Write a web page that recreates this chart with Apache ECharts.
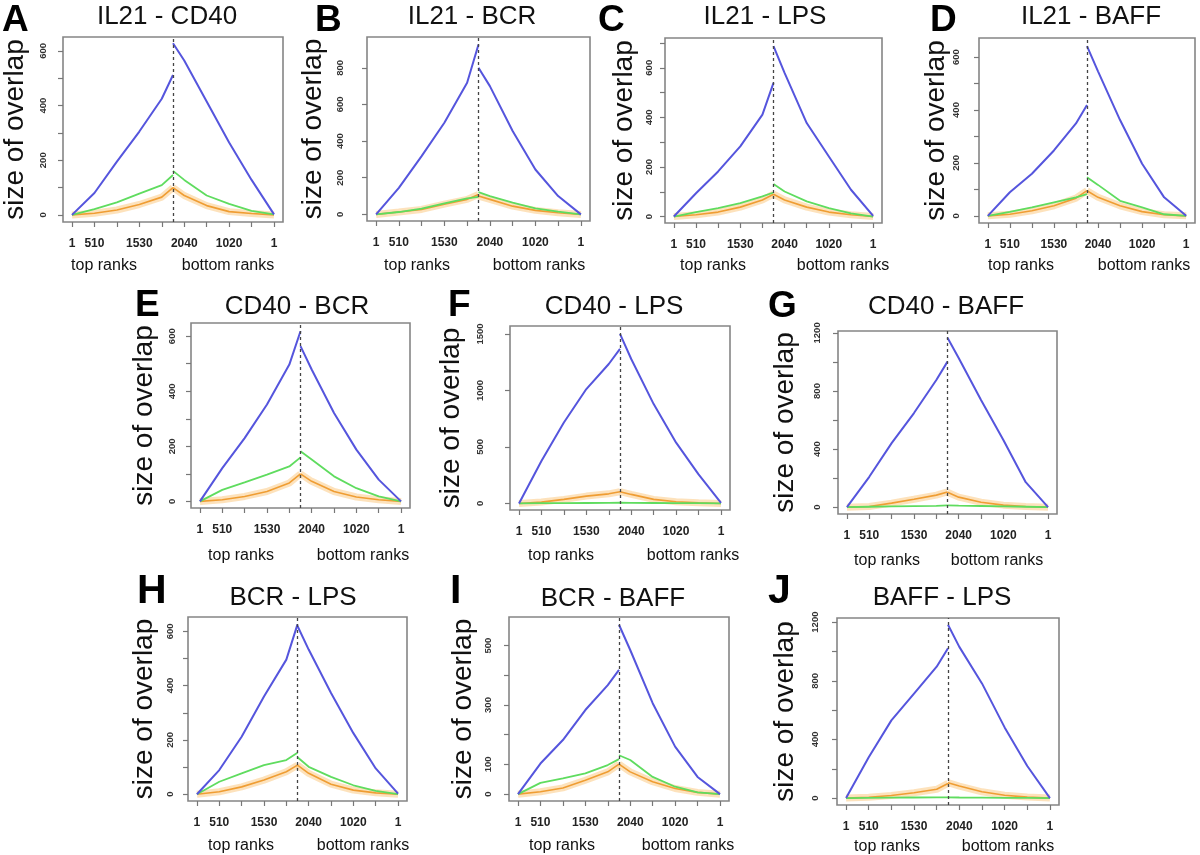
<!DOCTYPE html>
<html>
<head>
<meta charset="utf-8">
<script src="https://cdn.jsdelivr.net/npm/echarts@6/dist/echarts.min.js"></script>
<style>html,body{margin:0;padding:0;background:#fff}#c{width:1200px;height:855px}</style>
</head>
<body>
<div id="c"></div>
<script>
// ---------- data ----------
const letters = ['A','B','C','D','E','F','G','H','I','J'];
const titles = ['IL21 - CD40','IL21 - BCR','IL21 - LPS','IL21 - BAFF','CD40 - BCR','CD40 - LPS','CD40 - BAFF','BCR - LPS','BCR - BAFF','BAFF - LPS'];
const xLeft = [0, 1, 2, 3, 4, 4.5];
const xRight = [4.5, 5, 6, 7, 8, 9];
const xTickValues = [0,1,2,3,4,5,6,7,8,9];
const xTickLabels = ['1','510','1020','1530','2040','2040','1530','1020','510','1'];
const xLabelShown = [0,1,3,5,7,9];
const yTickValues = [
  [0,100,200,300,400,500,600],
  [0,200,400,600,800],
  [0,100,200,300,400,500,600,700],
  [0,100,200,300,400,500,600],
  [0,100,200,300,400,500,600],
  [0,500,1000,1500],
  [0,200,400,600,800,1000,1200],
  [0,100,200,300,400,500,600],
  [0,100,200,300,400,500],
  [0,200,400,600,800,1000,1200]
];
const yLabelValues = [
  [0,200,400,600],[0,200,400,600,800],[0,200,400,600],[0,200,400,600],[0,200,400,600],
  [0,500,1000,1500],[0,400,800,1200],[0,200,400,600],[0,100,300,500],[0,400,800,1200]
];
const yRange = [[-26,651],[-36,968],[-26,720],[-27,672],[-24,648],[-58,1570],[-47,1213],[-25,653],[-23,596],[-47,1228]];

// top ranks (left half) and bottom ranks (right half)
const blueLeft = [
  [0,80,195,305,425,512],
  [0,145,318,500,718,927],
  [0,94,182,283,411,539],
  [0,89,159,247,349,419],
  [0,121,230,352,497,618],
  [0,376,716,1012,1234,1367],
  [0,209,441,648,876,1002],
  [0,89,212,360,496,626],
  [0,103,182,283,367,418],
  [0,279,530,713,896,1022]
];
const blueRight = [
  [628,565,415,265,128,2],
  [800,700,455,245,100,0],
  [687,579,377,242,108,3],
  [641,546,362,197,70,0],
  [564,479,321,188,79,0],
  [1500,1278,879,538,257,6],
  [1166,1027,738,462,172,0],
  [620,533,373,225,95,2],
  [570,485,306,160,58,0],
  [1182,1031,782,482,219,0]
];
const greenLeft = [
  [0,21,46,78,109,146],
  [0,13,31,60,87,96],
  [0,18,34,54,81,97],
  [0,15,32,51,70,82],
  [0,42,69,97,127,160],
  [0,2,3,4,5,6],
  [0,3,5,7,9,12],
  [0,46,77,107,126,153],
  [0,38,53,70,98,118],
  [0,2,3,4,5,5]
];
const greenRight = [
  [161,128,71,40,15,2],
  [122,100,64,33,15,0],
  [131,101,61,34,13,0],
  [146,117,57,32,6,0],
  [182,152,91,48,18,0],
  [6,5,4,3,2,0],
  [12,10,8,6,3,0],
  [136,101,64,33,12,0],
  [131,115,58,25,6,0],
  [5,4,3,2,1,0]
];
const orangeLeft = [
  [0,6,18,38,65,100],
  [0,13,27,56,82,109],
  [0,7,18,38,67,90],
  [0,6,19,38,67,95],
  [0,6,18,36,67,100],
  [0,12,36,65,85,104],
  [0,5,28,55,83,105],
  [0,9,27,52,83,107],
  [0,8,21,47,75,101],
  [0,6,18,37,60,100]
];
const orangeRight = [
  [100,71,34,12,5,0],
  [100,82,45,22,9,0],
  [90,67,38,18,7,0],
  [95,70,38,16,4,0],
  [100,73,36,16,6,0],
  [104,80,36,15,6,0],
  [103,69,34,14,5,0],
  [107,77,37,15,5,0],
  [101,75,42,19,6,0],
  [105,82,43,20,7,0]
];

// ---------- layout ----------
const frames = [ // [left, top, right, bottom]
  [62,37,283,222],[367,37,590,221],[665,38,882,223],[979,38,1195,223],
  [191,323,410,508],[510,326,730,510],[838,331,1057,514],
  [188,617,407,801],[509,617,729,801],[837,618,1059,805]
];
const yLabelMargin = [15,22,11,18,14,25,16,13,16,17];
const yNameGap = [34,40,27,19,33,45,39,30,32,38];
const letterPos = [[2,21],[315,21],[598,21],[930,21],[135,306],[448,306],[768,307],[137,592],[450,592],[768,592]];
const letterSize = [37,37,37,37,37,37,37,41,41,41];
const titlePos = [[167,17],[472,17],[765,17],[1091,17],[297,307],[614,307],[946,307],[293,598],[613,599],[942,598]];
const rankLabelPos = [ // [topX, bottomX, y]
  [104,228,266],[417,539,266],[713,843,266],[1021,1144,266],
  [241,363,556],[561,693,556],[887,997,561],
  [241,363,846],[562,688,846],[887,1008,847]
];

const FONT = '"Liberation Sans", Arial, sans-serif';
const BLUE = '#5555dd', GREEN = '#5fdc5f', ORANGE = '#ef9d33', ORANGE_BAND = '#fbcf8f';

function pts(xs, ys) { return xs.map((x, i) => [x, ys[i]]); }

const grid = [], xAxis = [], yAxis = [], series = [], graphic = [];
frames.forEach((f, i) => {
  grid.push({ left: f[0], top: f[1], width: f[2] - f[0], height: f[3] - f[1], show: true,
    borderColor: '#858585', borderWidth: 1.6, backgroundColor: 'transparent' });
  xAxis.push({ type: 'value', gridIndex: i, min: -0.4, max: 9.4,
    splitLine: { show: false }, axisLine: { show: false, onZero: false },
    axisTick: { show: true, customValues: xTickValues, length: 5, lineStyle: { color: '#777', width: 1.2 } },
    axisLabel: { customValues: xLabelShown, formatter: v => xTickLabels[Math.round(v)],
      fontSize: 12, fontWeight: 'bold', color: '#222', fontFamily: FONT, margin: 16 } });
  yAxis.push({ type: 'value', gridIndex: i, min: yRange[i][0], max: yRange[i][1],
    splitLine: { show: false }, axisLine: { show: false, onZero: false },
    axisTick: { show: true, customValues: yTickValues[i], length: 5, lineStyle: { color: '#777', width: 1.2 } },
    axisLabel: { customValues: yLabelValues[i], formatter: v => String(v), rotate: 90, fontSize: 9.5, fontWeight: 'bold',
      color: '#333', fontFamily: FONT, margin: yLabelMargin[i] },
    name: 'size of overlap', nameLocation: 'middle', nameRotate: 90, nameGap: yNameGap[i],
    nameTextStyle: { fontSize: 28, color: '#111', fontFamily: FONT } });

  const base = { type: 'line', xAxisIndex: i, yAxisIndex: i, symbol: 'none', silent: true, animation: false };
  series.push(Object.assign({}, base, { data: pts(xLeft, orangeLeft[i]),
    lineStyle: { color: ORANGE_BAND, width: 7, opacity: 0.6 }, z: 1,
    markLine: { silent: true, symbol: 'none', label: { show: false },
      lineStyle: { color: '#444', type: [3, 3], width: 1.3 }, data: [{ xAxis: 4.5 }] } }));
  series.push(Object.assign({}, base, { data: pts(xRight, orangeRight[i]),
    lineStyle: { color: ORANGE_BAND, width: 7, opacity: 0.6 }, z: 1 }));
  series.push(Object.assign({}, base, { data: pts(xLeft, orangeLeft[i]), lineStyle: { color: ORANGE, width: 1.6 }, z: 2 }));
  series.push(Object.assign({}, base, { data: pts(xRight, orangeRight[i]), lineStyle: { color: ORANGE, width: 1.6 }, z: 2 }));
  series.push(Object.assign({}, base, { data: pts(xLeft, greenLeft[i]), lineStyle: { color: GREEN, width: 1.8 }, z: 3 }));
  series.push(Object.assign({}, base, { data: pts(xRight, greenRight[i]), lineStyle: { color: GREEN, width: 1.8 }, z: 3 }));
  series.push(Object.assign({}, base, { data: pts(xLeft, blueLeft[i]), lineStyle: { color: BLUE, width: 2 }, z: 4 }));
  series.push(Object.assign({}, base, { data: pts(xRight, blueRight[i]), lineStyle: { color: BLUE, width: 2 }, z: 4 }));

  graphic.push({ type: 'text', x: letterPos[i][0], y: letterPos[i][1], silent: true,
    style: { text: letters[i], font: 'bold ' + letterSize[i] + 'px ' + FONT, fill: '#000',
      textAlign: 'left', textVerticalAlign: 'middle' } });
  graphic.push({ type: 'text', x: titlePos[i][0], y: titlePos[i][1], silent: true,
    style: { text: titles[i], font: '26px ' + FONT, fill: '#111', textAlign: 'center', textVerticalAlign: 'middle' } });
  graphic.push({ type: 'text', x: rankLabelPos[i][0], y: rankLabelPos[i][2], silent: true,
    style: { text: 'top ranks', font: '16px ' + FONT, fill: '#111', textAlign: 'center', textVerticalAlign: 'middle' } });
  graphic.push({ type: 'text', x: rankLabelPos[i][1], y: rankLabelPos[i][2], silent: true,
    style: { text: 'bottom ranks', font: '16px ' + FONT, fill: '#111', textAlign: 'center', textVerticalAlign: 'middle' } });
});

const chart = echarts.init(document.getElementById('c'), null, { renderer: 'canvas' });
chart.setOption({ animation: false, backgroundColor: '#fff', grid, xAxis, yAxis, series, graphic });
</script>
</body>
</html>
